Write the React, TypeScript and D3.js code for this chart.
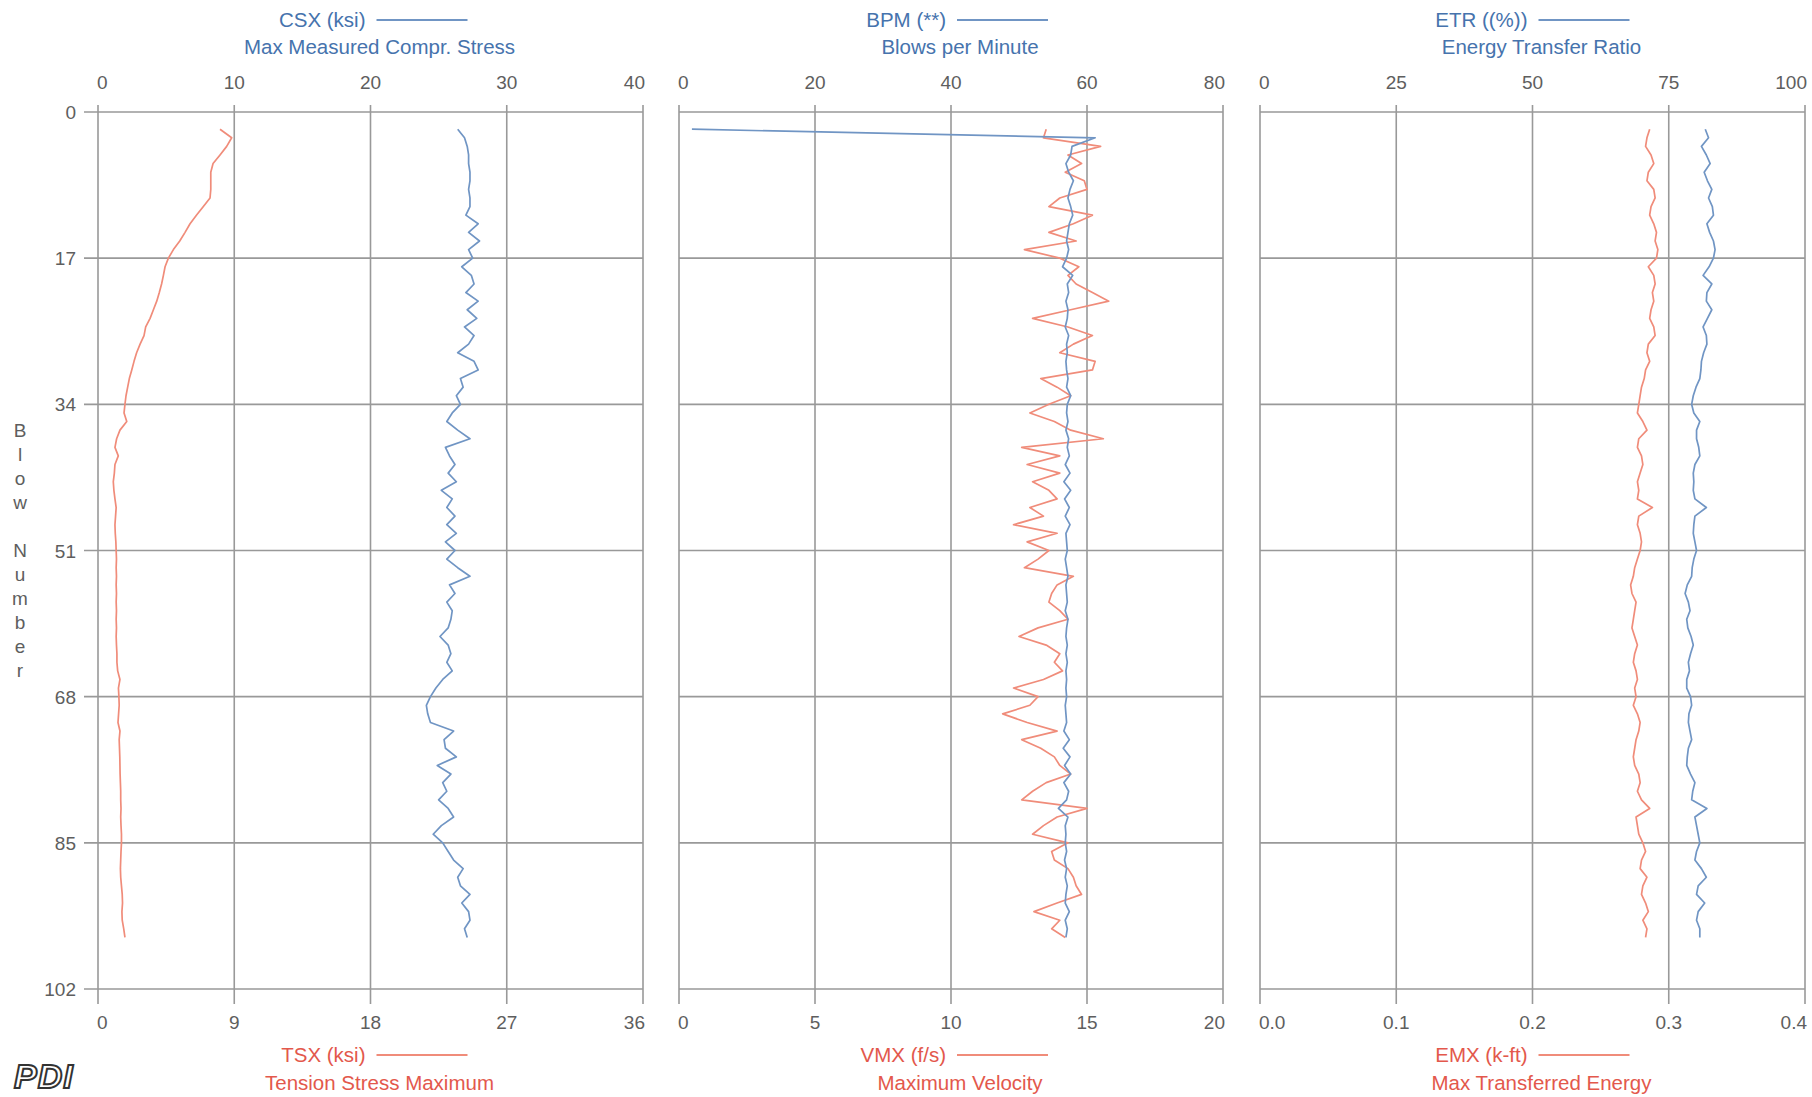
import React, { useRef, useEffect } from 'react'
import * as d3 from 'd3'

// blow numbers run from firstBlow upward, one value per blow
const firstBlow = 2
const blowTicks = [0, 17, 34, 51, 68, 85, 102]

const csxTicks = [0, 10, 20, 30, 40]
const tsxTicks = [0, 9, 18, 27, 36]
const bpmTicks = [0, 20, 40, 60, 80]
const vmxTicks = [0, 5, 10, 15, 20]
const etrTicks = [0, 25, 50, 75, 100]
const emxTicks = [0, 0.1, 0.2, 0.3, 0.4]

// Max Measured Compr. Stress (ksi)
const csx = [
  26.4, 26.9, 27.1, 27.2, 27.2, 27.3, 27.3, 27.2, 27.3, 27.3,
  27.0, 27.9, 27.2, 28.0, 27.2, 27.5, 26.7, 27.4, 27.6, 27.0,
  27.9, 27.1, 27.8, 26.9, 27.6, 27.2, 26.4, 27.6, 27.9, 26.6,
  26.8, 26.3, 26.6, 26.0, 25.6, 26.4, 27.3, 25.5, 25.8, 26.2,
  25.7, 26.3, 25.2, 26.0, 25.6, 26.2, 25.6, 26.3, 25.5, 26.2,
  25.6, 26.4, 27.3, 25.8, 26.2, 25.6, 26.0, 25.9, 25.7, 25.1,
  25.7, 25.9, 25.6, 26.0, 25.3, 24.8, 24.4, 24.1, 24.2, 24.4,
  26.1, 25.4, 25.5, 26.3, 24.9, 25.9, 25.3, 25.6, 25.0, 25.7,
  26.1, 25.2, 24.6, 25.3, 25.7, 26.1, 26.8, 26.4, 26.6, 27.3,
  26.7, 27.2, 27.3, 26.9, 27.1,
]

// Tension Stress Maximum (ksi)
const tsx = [
  8.06, 8.83, 8.5, 8.06, 7.6, 7.45, 7.45, 7.45, 7.4, 6.96,
  6.5, 6.08, 5.75, 5.4, 4.98, 4.65, 4.43, 4.32, 4.2, 4.05,
  3.88, 3.66, 3.44, 3.15, 3.04, 2.78, 2.55, 2.38, 2.23, 2.07,
  1.96, 1.85, 1.78, 1.72, 1.9, 1.45, 1.23, 1.12, 1.34, 1.12,
  1.08, 1.01, 1.05, 1.12, 1.2, 1.16, 1.12, 1.14, 1.18, 1.2,
  1.22, 1.2, 1.22, 1.2, 1.22, 1.2, 1.22, 1.2, 1.22, 1.2,
  1.22, 1.25, 1.25, 1.3, 1.45, 1.35, 1.38, 1.4, 1.36, 1.32,
  1.45, 1.4, 1.42, 1.44, 1.45, 1.46, 1.48, 1.5, 1.5, 1.52,
  1.5, 1.52, 1.55, 1.55, 1.52, 1.5, 1.48, 1.5, 1.55, 1.6,
  1.62, 1.58, 1.6, 1.7, 1.78,
]

// Blows per Minute
const bpm = [
  1.9, 61.2, 57.8, 57.6, 56.9, 57.3, 58.0, 57.5, 57.2, 57.6,
  57.9, 57.4, 57.2, 57.0, 57.3, 57.0, 56.4, 57.9, 57.1, 57.3,
  56.9, 57.2, 57.1, 56.8, 57.3, 57.0, 57.1, 56.9, 57.0, 57.2,
  57.0, 57.6, 57.1, 57.0, 57.2, 56.9, 57.3, 57.1, 57.4, 56.8,
  57.5, 56.6, 57.6, 56.7, 57.4, 56.8, 57.5, 56.9, 57.0, 57.1,
  56.8, 57.0, 57.2, 56.9, 57.0, 57.1, 56.8, 57.2, 57.0, 56.9,
  57.1, 56.9, 57.1, 56.9, 57.0, 56.9, 57.0, 56.8, 56.9, 57.0,
  56.6, 57.4, 56.5, 57.5, 56.7, 57.6, 56.6, 57.3, 57.0, 55.8,
  57.2, 56.8, 56.9, 56.8, 57.0, 56.7, 57.0, 56.8, 57.1, 56.9,
  56.8, 57.4, 56.8, 57.1, 56.9,
]

// Maximum Velocity (f/s)
const vmx = [
  13.5, 13.4, 15.5, 14.3, 14.8, 14.2, 14.9, 15.0, 14.0, 13.6,
  15.2, 14.5, 13.6, 14.6, 12.7, 14.0, 14.7, 14.3, 14.6, 15.2,
  15.8, 14.4, 13.0, 14.3, 15.2, 14.5, 14.0, 15.3, 15.2, 13.3,
  13.9, 14.4, 13.6, 12.9, 13.8, 14.4, 15.6, 12.6, 14.0, 12.8,
  14.0, 13.0, 13.6, 13.9, 12.9, 13.4, 12.3, 13.9, 12.8, 13.6,
  13.2, 12.7, 14.5, 13.9, 13.7, 13.6, 14.0, 14.3, 13.2, 12.5,
  13.5, 14.0, 13.8, 14.1, 13.4, 12.3, 13.2, 12.9, 11.9, 12.8,
  13.9, 12.6, 13.3, 13.8, 14.0, 14.4, 13.5, 13.0, 12.6, 15.0,
  13.9, 13.4, 13.0, 14.3, 13.7, 13.8, 14.3, 14.5, 14.6, 14.8,
  13.9, 13.05, 14.0, 13.7, 14.2,
]

// Energy Transfer Ratio (%)
const etr = [
  81.7, 82.3, 81.0, 81.9, 82.6, 81.5, 82.1, 82.9, 82.3, 83.0,
  83.2, 82.0, 82.5, 83.2, 83.5, 83.2, 82.4, 81.3, 82.9, 82.0,
  81.9, 82.9, 82.1, 81.3, 81.9, 82.0, 81.4, 81.0, 80.9, 80.7,
  80.0, 79.5, 79.2, 79.6, 80.7, 80.1, 80.1, 80.5, 80.7, 79.8,
  79.5, 79.6, 79.5, 79.8, 81.9, 79.8, 79.6, 79.5, 79.8, 80.1,
  79.6, 79.3, 79.2, 78.4, 78.0, 78.6, 78.9, 78.3, 78.5, 79.1,
  79.5, 79.0, 78.6, 78.8, 78.3, 78.3, 79.0, 79.2, 78.7, 78.6,
  78.9, 79.2, 78.6, 78.4, 78.3, 79.0, 79.8, 79.4, 79.2, 82.0,
  79.8, 80.1, 80.4, 80.7, 80.1, 79.8, 81.0, 81.9, 80.4, 80.1,
  81.6, 80.4, 80.1, 80.7, 80.7,
]

// Max Transferred Energy (k-ft)
const emx = [
  0.286, 0.284, 0.283, 0.287, 0.289, 0.285, 0.284, 0.289, 0.290, 0.287,
  0.286, 0.289, 0.291, 0.290, 0.292, 0.291, 0.285, 0.289, 0.290, 0.288,
  0.289, 0.287, 0.286, 0.289, 0.290, 0.285, 0.284, 0.286, 0.283, 0.282,
  0.280, 0.279, 0.278, 0.277, 0.281, 0.284, 0.278, 0.277, 0.280, 0.281,
  0.279, 0.277, 0.278, 0.277, 0.288, 0.278, 0.277, 0.279, 0.280, 0.279,
  0.277, 0.275, 0.274, 0.272, 0.273, 0.276, 0.275, 0.274, 0.273, 0.275,
  0.277, 0.275, 0.274, 0.276, 0.277, 0.275, 0.276, 0.274, 0.277, 0.279,
  0.278, 0.276, 0.275, 0.274, 0.275, 0.278, 0.279, 0.277, 0.280, 0.286,
  0.276, 0.277, 0.278, 0.281, 0.283, 0.280, 0.279, 0.284, 0.281, 0.280,
  0.283, 0.285, 0.281, 0.284, 0.283,
]

const BLUE_LINE = '#7095c4'
const RED_LINE = '#f08c7a'
const BLUE_TEXT = '#4673ad'
const RED_TEXT = '#e3584c'
const GRID = '#999999'
const LABEL = '#5e5e5e'
const FONT = '"Liberation Sans", Arial, sans-serif'

function App() {
  const svgRef = useRef<SVGSVGElement>(null)

  useEffect(() => {
    const width = 1812
    const height = 1097
    const top = 112
    const bottom = 989

    const svg = d3.select(svgRef.current)
    svg.selectAll('*').remove()
    svg.attr('width', width).attr('height', height)

    svg.append('rect').attr('width', width).attr('height', height).attr('fill', '#fff')

    const y = d3.scaleLinear().domain([0, 102]).range([top, bottom])

    const panels = [
      {
        x0: 98, x1: 643, yLabels: true,
        topSeries: { name: 'CSX (ksi)', desc: 'Max Measured Compr. Stress', ticks: csxTicks, data: csx, fmt: d3.format('d') },
        botSeries: { name: 'TSX (ksi)', desc: 'Tension Stress Maximum', ticks: tsxTicks, data: tsx, fmt: d3.format('d') },
      },
      {
        x0: 679, x1: 1223, yLabels: false,
        topSeries: { name: 'BPM (**)', desc: 'Blows per Minute', ticks: bpmTicks, data: bpm, fmt: d3.format('d') },
        botSeries: { name: 'VMX (f/s)', desc: 'Maximum Velocity', ticks: vmxTicks, data: vmx, fmt: d3.format('d') },
      },
      {
        x0: 1260, x1: 1805, yLabels: false,
        topSeries: { name: 'ETR ((%))', desc: 'Energy Transfer Ratio', ticks: etrTicks, data: etr, fmt: d3.format('d') },
        botSeries: { name: 'EMX (k-ft)', desc: 'Max Transferred Energy', ticks: emxTicks, data: emx, fmt: d3.format('.1f') },
      },
    ]

    panels.forEach((p) => {
      const g = svg.append('g')
      const xTop = d3.scaleLinear()
        .domain([p.topSeries.ticks[0], p.topSeries.ticks[p.topSeries.ticks.length - 1]])
        .range([p.x0, p.x1])
      const xBot = d3.scaleLinear()
        .domain([p.botSeries.ticks[0], p.botSeries.ticks[p.botSeries.ticks.length - 1]])
        .range([p.x0, p.x1])

      // horizontal grid
      g.append('g').selectAll('line')
        .data(blowTicks)
        .join('line')
        .attr('x1', p.yLabels ? p.x0 - 14 : p.x0)
        .attr('x2', p.x1)
        .attr('y1', (d) => y(d))
        .attr('y2', (d) => y(d))
        .attr('stroke', GRID)
        .attr('stroke-width', 1.6)

      // vertical grid
      g.append('g').selectAll('line')
        .data(p.topSeries.ticks)
        .join('line')
        .attr('x1', (d) => xTop(d))
        .attr('x2', (d) => xTop(d))
        .attr('y1', top - 7)
        .attr('y2', bottom + 15)
        .attr('stroke', GRID)
        .attr('stroke-width', 1.6)

      // top tick labels
      g.append('g').selectAll('text')
        .data(p.topSeries.ticks)
        .join('text')
        .attr('x', (d) => xTop(d))
        .attr('y', 89)
        .attr('text-anchor', (d, i) => (i === 0 ? 'start' : i === p.topSeries.ticks.length - 1 ? 'end' : 'middle'))
        .attr('dx', (d, i) => (i === 0 ? -1 : i === p.topSeries.ticks.length - 1 ? 2 : 0))
        .attr('font-family', FONT)
        .attr('font-size', 19)
        .attr('fill', LABEL)
        .text((d) => p.topSeries.fmt(d))

      // bottom tick labels
      g.append('g').selectAll('text')
        .data(p.botSeries.ticks)
        .join('text')
        .attr('x', (d) => xBot(d))
        .attr('y', 1029)
        .attr('text-anchor', (d, i) => (i === 0 ? 'start' : i === p.botSeries.ticks.length - 1 ? 'end' : 'middle'))
        .attr('dx', (d, i) => (i === 0 ? -1 : i === p.botSeries.ticks.length - 1 ? 2 : 0))
        .attr('font-family', FONT)
        .attr('font-size', 19)
        .attr('fill', LABEL)
        .text((d) => p.botSeries.fmt(d))

      if (p.yLabels) {
        g.append('g').selectAll('text')
          .data(blowTicks)
          .join('text')
          .attr('x', 76)
          .attr('y', (d) => y(d) + 7)
          .attr('text-anchor', 'end')
          .attr('font-family', FONT)
          .attr('font-size', 19)
          .attr('fill', LABEL)
          .text((d) => d)
      }

      // titles
      const cx = (p.x0 + p.x1) / 2
      const titles = [
        { s: p.topSeries, y1: 27, y2: 54, text: BLUE_TEXT, line: BLUE_LINE },
        { s: p.botSeries, y1: 1062, y2: 1090, text: RED_TEXT, line: RED_LINE },
      ]
      titles.forEach((t) => {
        g.append('text')
          .attr('x', cx - 5)
          .attr('y', t.y1)
          .attr('text-anchor', 'end')
          .attr('font-family', FONT)
          .attr('font-size', 20.5)
          .attr('fill', t.text)
          .text(t.s.name)
        g.append('line')
          .attr('x1', cx + 6)
          .attr('x2', cx + 97)
          .attr('y1', t.y1 - 7)
          .attr('y2', t.y1 - 7)
          .attr('stroke', t.line)
          .attr('stroke-width', 2)
        g.append('text')
          .attr('x', cx + 9)
          .attr('y', t.y2)
          .attr('text-anchor', 'middle')
          .attr('font-family', FONT)
          .attr('font-size', 20.5)
          .attr('fill', t.text)
          .text(t.s.desc)
      })

      // series lines, red first then blue on top
      const lineBot = d3.line<number>()
        .x((d) => xBot(d))
        .y((d, i) => y(firstBlow + i))
      const lineTop = d3.line<number>()
        .x((d) => xTop(d))
        .y((d, i) => y(firstBlow + i))

      g.append('path')
        .datum(p.botSeries.data)
        .attr('d', lineBot)
        .style('fill', 'none')
        .style('stroke', RED_LINE)
        .style('stroke-width', 1.7)
        .style('stroke-linejoin', 'round')

      g.append('path')
        .datum(p.topSeries.data)
        .attr('d', lineTop)
        .style('fill', 'none')
        .style('stroke', BLUE_LINE)
        .style('stroke-width', 1.7)
        .style('stroke-linejoin', 'round')
    })

    // y axis title, letters stacked
    const yTitle = 'Blow Number'.split('')
    svg.append('g').selectAll('text')
      .data(yTitle)
      .join('text')
      .attr('x', 20)
      .attr('y', (d, i) => 437 + i * 24)
      .attr('text-anchor', 'middle')
      .attr('font-family', FONT)
      .attr('font-size', 19)
      .attr('fill', LABEL)
      .text((d) => d)

    // logo
    svg.append('text')
      .attr('x', 14)
      .attr('y', 1088)
      .attr('font-family', FONT)
      .attr('font-size', 34)
      .attr('font-weight', 900)
      .attr('font-style', 'italic')
      .attr('letter-spacing', 1)
      .attr('fill', '#fff')
      .attr('stroke', '#333')
      .attr('stroke-width', 2)
      .text('PDI')
  }, [])

  return (
    <svg ref={svgRef} style={{ position: 'absolute', left: 0, top: 0, display: 'block' }}></svg>
  )
}

export default App
